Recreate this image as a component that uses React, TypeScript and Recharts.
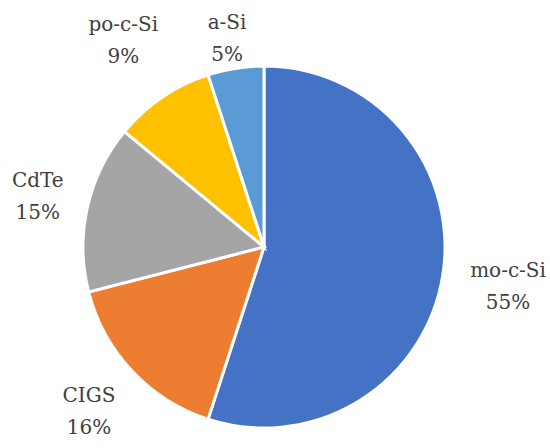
import { PieChart, Pie, Cell } from 'recharts'

const CATEGORIES = ['mo-c-Si', 'CIGS', 'CdTe', 'po-c-Si', 'a-Si']
const SHARES = [55, 16, 15, 9, 5]
const COLORS = ['#4472C4', '#ED7D31', '#A5A5A5', '#FFC000', '#5B9BD5']

const RAD = Math.PI / 180
const FONT = '"DejaVu Serif", serif'
const FONT_SIZE = 20

interface LabelProps {
  cx: number
  cy: number
  midAngle: number
  outerRadius: number
  index: number
}

// place the label box just outside the rim, like Excel's "outside end" labels
function SliceLabel({ cx, cy, midAngle, outerRadius, index }: LabelProps) {
  const name = CATEGORIES[index]
  const pct = `${SHARES[index]}%`
  const halfW = (Math.max(name.length, pct.length) * FONT_SIZE * 0.57) / 2
  const halfH = 30
  const dx = Math.cos(-midAngle * RAD)
  const dy = Math.sin(-midAngle * RAD)
  const r = outerRadius + 22 + Math.abs(dx) * halfW + Math.abs(dy) * halfH
  const x = cx + r * dx
  const y = Math.max(cy + r * dy, 38)
  return (
    <text textAnchor="middle" fill="#404040" fontFamily={FONT} fontSize={FONT_SIZE}>
      <tspan x={x} y={y - 9}>{name}</tspan>
      <tspan x={x} y={y + 23}>{pct}</tspan>
    </text>
  )
}

export default function App() {
  const data = CATEGORIES.map((name, i) => ({ name, value: SHARES[i] }))

  return (
    <div style={{ position: 'absolute', left: 0, top: 0, width: 550, height: 448, background: '#fff' }}>
      <PieChart width={550} height={448} margin={{ top: 0, right: 0, bottom: 0, left: 0 }}>
        <Pie
          data={data}
          dataKey="value"
          nameKey="name"
          cx={264}
          cy={247}
          outerRadius={181}
          startAngle={90}
          endAngle={-270}
          stroke="#fff"
          strokeWidth={3}
          label={(p: LabelProps) => <SliceLabel {...p} />}
          labelLine={false}
          isAnimationActive={false}
        >
          {data.map((_, i) => (
            <Cell key={i} fill={COLORS[i]} />
          ))}
        </Pie>
      </PieChart>
    </div>
  )
}
